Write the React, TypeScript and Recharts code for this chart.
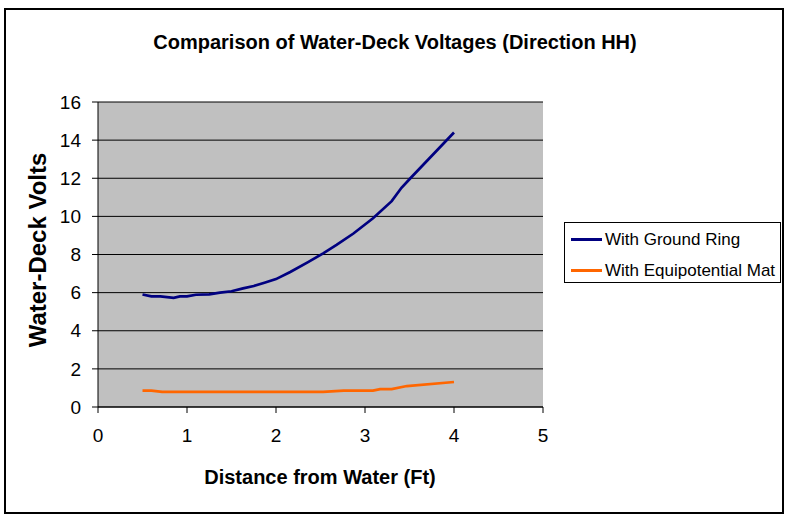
import { LineChart, Line, XAxis, YAxis, CartesianGrid } from "recharts";

const ringX = [0.5, 0.6, 0.7, 0.85, 0.92, 1.0, 1.1, 1.25, 1.37, 1.5, 1.63, 1.75, 1.87, 2.0, 2.16, 2.36, 2.53, 2.68, 2.87, 3.09, 3.3, 3.41, 3.51, 4.0];
const ringV = [5.9, 5.8, 5.8, 5.73, 5.8, 5.8, 5.89, 5.91, 6.0, 6.07, 6.22, 6.35, 6.52, 6.71, 7.08, 7.6, 8.06, 8.5, 9.1, 9.9, 10.8, 11.5, 12.0, 14.4];

const matX = [0.5, 0.6, 0.72, 1.0, 1.5, 2.0, 2.53, 2.76, 3.09, 3.17, 3.3, 3.47, 4.0];
const matV = [0.86, 0.86, 0.79, 0.79, 0.79, 0.79, 0.79, 0.86, 0.86, 0.94, 0.94, 1.1, 1.31];

const xTicks = [0, 1, 2, 3, 4, 5];
const yTicks = [0, 2, 4, 6, 8, 10, 12, 14, 16];

const ringData = ringX.map((x, i) => ({ x, v: ringV[i] }));
const matData = matX.map((x, i) => ({ x, v: matV[i] }));

const font = "'Liberation Sans', Arial, sans-serif";

function LegendBox() {
  const items = [
    { name: "With Ground Ring", color: "#000080" },
    { name: "With Equipotential Mat", color: "#FF6600" },
  ];
  return (
    <div
      style={{
        position: "absolute",
        left: 564,
        top: 222,
        border: "1.5px solid #000",
        background: "#fff",
        width: 217,
        height: 61,
        boxSizing: "border-box",
        padding: "3px 0 0 6px",
        fontFamily: font,
        fontSize: 17,
      }}
    >
      {items.map((it) => (
        <div key={it.name} style={{ display: "flex", alignItems: "center", height: 27, marginBottom: 4 }}>
          <div style={{ width: 31, height: 3, background: it.color, marginRight: 3 }} />
          <span>{it.name}</span>
        </div>
      ))}
    </div>
  );
}

export default function App() {
  return (
    <div style={{ position: "absolute", left: 0, top: 0, width: 793, height: 515, background: "#fff", fontFamily: font }}>
      <div
        style={{
          position: "absolute",
          left: 4,
          top: 8,
          width: 780,
          height: 506,
          border: "2px solid #000",
          boxSizing: "border-box",
        }}
      />
      <LineChart width={793} height={515} margin={{ top: 102, right: 250, bottom: 0, left: 0 }}>
        <CartesianGrid vertical={false} stroke="#000" strokeWidth={1} fill="#C0C0C0" />
        <XAxis
          type="number"
          dataKey="x"
          domain={[0, 5]}
          ticks={xTicks}
          interval={0}
          stroke="#000"
          tickSize={6}
          tick={{ fill: "#000", fontSize: 19, fontFamily: font }}
          tickMargin={16}
          height={108}
        />
        <YAxis
          type="number"
          domain={[0, 16]}
          ticks={yTicks}
          interval={0}
          stroke="#000"
          tickSize={6}
          width={98}
          tick={{ fill: "#000", fontSize: 19, fontFamily: font }}
          tickMargin={11}
        />
        <Line data={ringData} dataKey="v" name="With Ground Ring" stroke="#000080" strokeWidth={2.7} dot={false} isAnimationActive={false} type="linear" />
        <Line data={matData} dataKey="v" name="With Equipotential Mat" stroke="#FF6600" strokeWidth={2.7} dot={false} isAnimationActive={false} type="linear" />
        <text x={395} y={49} textAnchor="middle" fontFamily={font} fontSize={20} fontWeight="bold" fill="#000">
          Comparison of Water-Deck Voltages (Direction HH)
        </text>
        <text x={320} y={484} textAnchor="middle" fontFamily={font} fontSize={20} fontWeight="bold" fill="#000">
          Distance from Water (Ft)
        </text>
        <text
          x={46}
          y={250}
          textAnchor="middle"
          fontFamily={font}
          fontSize={24}
          fontWeight="bold"
          fill="#000"
          transform="rotate(-90 46 250)"
        >
          Water-Deck Volts
        </text>
      </LineChart>
      <LegendBox />
    </div>
  );
}
